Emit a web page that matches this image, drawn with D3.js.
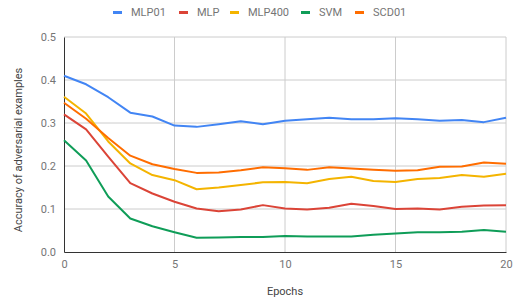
<!DOCTYPE html>
<html>
<head>
<meta charset="utf-8">
<script src="https://cdn.jsdelivr.net/npm/d3@7"></script>
<style>
  body { margin: 0; background: #fff; }
  svg text { font-family: Roboto, "Noto Sans", sans-serif; }
</style>
</head>
<body>
<div id="chart"></div>
<script>
// data
var epochs = [0,1,2,3,4,5,6,7,8,9,10,11,12,13,14,15,16,17,18,19,20];
var mlp01  = [0.410,0.390,0.360,0.324,0.315,0.294,0.291,0.297,0.304,0.297,0.305,0.309,0.312,0.309,0.309,0.311,0.309,0.305,0.307,0.302,0.312];
var mlp    = [0.320,0.285,0.222,0.160,0.136,0.117,0.101,0.095,0.099,0.109,0.101,0.099,0.103,0.112,0.107,0.100,0.101,0.099,0.105,0.108,0.109];
var mlp400 = [0.361,0.322,0.257,0.206,0.179,0.167,0.146,0.150,0.156,0.162,0.163,0.160,0.170,0.175,0.165,0.163,0.170,0.172,0.179,0.175,0.182];
var svm    = [0.260,0.213,0.129,0.078,0.060,0.046,0.033,0.034,0.035,0.035,0.037,0.036,0.036,0.036,0.040,0.043,0.046,0.046,0.047,0.051,0.047];
var scd01  = [0.347,0.310,0.265,0.224,0.204,0.193,0.184,0.185,0.190,0.197,0.195,0.191,0.197,0.194,0.191,0.189,0.190,0.198,0.199,0.208,0.205];

var seriesNames = ["MLP01", "MLP", "MLP400", "SVM", "SCD01"];
var seriesData = [mlp01, mlp, mlp400, svm, scd01];
var colors = ["#4285F4", "#DB4437", "#F4B400", "#0F9D58", "#FF6D00"];
var yTicks = [0, 0.1, 0.2, 0.3, 0.4, 0.5];
var xTicks = [0, 5, 10, 15, 20];

var W = 521, H = 301;
var margin = {top: 37, right: 15, bottom: 49, left: 64};
var width = W - margin.left - margin.right,
    height = H - margin.top - margin.bottom;

var svg = d3.select("#chart").append("svg")
    .attr("width", W)
    .attr("height", H);

var g = svg.append("g")
    .attr("transform", "translate(" + margin.left + "," + margin.top + ")");

var x = d3.scaleLinear().domain([0, 20]).range([0, width]);
var y = d3.scaleLinear().domain([0, 0.5]).range([height, 0]);

// gridlines
g.append("g")
    .selectAll("line.hgrid")
    .data(yTicks.slice(1))
  .enter().append("line")
    .attr("x1", 0).attr("x2", width)
    .attr("y1", function(d) { return y(d); })
    .attr("y2", function(d) { return y(d); })
    .attr("stroke", "#cccccc").attr("stroke-width", 1);

g.append("g")
    .selectAll("line.vgrid")
    .data(xTicks.slice(1))
  .enter().append("line")
    .attr("y1", 0).attr("y2", height)
    .attr("x1", function(d) { return x(d); })
    .attr("x2", function(d) { return x(d); })
    .attr("stroke", "#cccccc").attr("stroke-width", 1);

// axes
var yAxis = g.append("g")
    .call(d3.axisLeft(y).tickValues(yTicks).tickFormat(d3.format(".1f")).tickSize(0).tickPadding(8));
yAxis.select(".domain").attr("stroke", "#333333");
yAxis.selectAll("text").attr("fill", "#757575").attr("font-size", 11);

var xAxis = g.append("g")
    .attr("transform", "translate(0," + height + ")")
    .call(d3.axisBottom(x).tickValues(xTicks).tickSize(0).tickPadding(8));
xAxis.select(".domain").attr("stroke", "#333333");
xAxis.selectAll("text").attr("fill", "#757575").attr("font-size", 11);

// lines
var line = d3.line()
    .x(function(d, i) { return x(epochs[i]); })
    .y(function(d) { return y(d); });

seriesData.forEach(function(s, k) {
  g.append("path")
      .datum(s)
      .attr("fill", "none")
      .attr("stroke", colors[k])
      .attr("stroke-width", 2)
      .attr("stroke-linejoin", "round")
      .attr("d", line);
});

// axis titles
svg.append("text")
    .attr("x", margin.left + width / 2)
    .attr("y", 295)
    .attr("text-anchor", "middle")
    .attr("fill", "#444444")
    .attr("font-size", 11)
    .text("Epochs");

svg.append("text")
    .attr("transform", "translate(22,150)rotate(-90)")
    .attr("text-anchor", "middle")
    .attr("fill", "#444444")
    .attr("font-size", 11)
    .text("Accuracy of adversarial examples");

// legend
var legendX = [113, 179, 230, 301, 355];
var legend = svg.append("g");
seriesNames.forEach(function(name, k) {
  legend.append("rect")
      .attr("x", legendX[k]).attr("y", 11)
      .attr("width", 9).attr("height", 3)
      .attr("fill", colors[k]);
  legend.append("text")
      .attr("x", legendX[k] + 18).attr("y", 16)
      .attr("fill", "#757575")
      .attr("font-size", 11)
      .text(name);
});
</script>
</body>
</html>
